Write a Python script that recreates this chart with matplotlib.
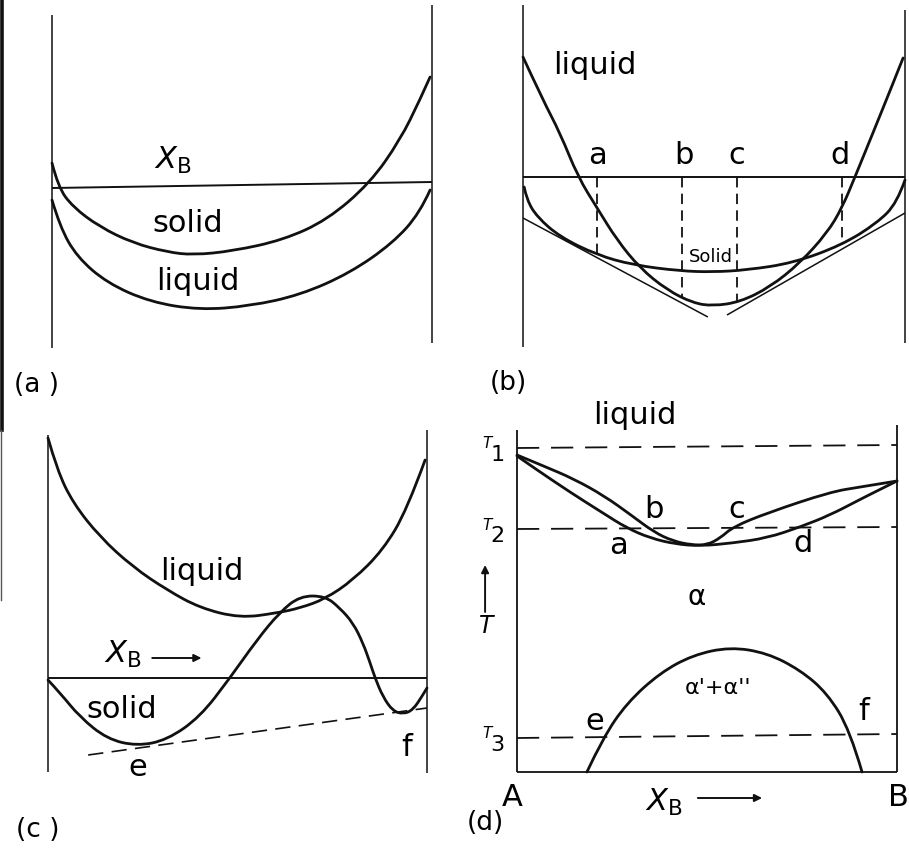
import matplotlib
matplotlib.use("Agg")
import matplotlib.pyplot as plt
from matplotlib.path import Path
from matplotlib.patches import PathPatch
from matplotlib.lines import Line2D

plt.rcParams['lines.scale_dashes'] = False
plt.rcParams['font.family'] = ['DejaVu Sans']
plt.rcParams['mathtext.fontset'] = 'dejavusans'

INK = '#111111'

# ---- (a) free energy, solid above liquid ----
a_solid_x = [0.0, 0.016, 0.055, 0.126, 0.213, 0.303, 0.371, 0.476, 0.608, 0.724, 0.837, 0.916, 0.968, 0.995]
a_solid_g = [185, 161, 141, 121, 105, 96, 93, 97, 108, 128, 165, 208, 248, 271]
a_liq_x = [0.0, 0.021, 0.066, 0.145, 0.258, 0.389, 0.521, 0.653, 0.784, 0.897, 0.968, 0.995]
a_liq_g = [148, 121, 91, 65, 46, 38, 42, 53, 75, 105, 135, 158]
a_ref_g = [160, 166]

# ---- (b) common tangents ----
b_liq_x = [0.0, 0.052, 0.097, 0.144, 0.194, 0.246, 0.306, 0.377, 0.445, 0.497, 0.568, 0.647, 0.725, 0.796, 0.835, 0.869, 0.916, 0.969, 0.995]
b_liq_g = [290, 247, 214, 170, 139, 107, 79, 57, 44, 41, 45, 60, 84, 114, 139, 170, 214, 264, 289]
b_sol_x = [0.003, 0.010, 0.037, 0.097, 0.194, 0.288, 0.411, 0.497, 0.586, 0.707, 0.835, 0.927, 0.979, 1.0]
b_sol_g = [160, 147, 130, 110, 92, 82, 76, 75, 77, 84, 102, 124, 144, 167]
b_ref_g = 170
b_tan1 = ([0.0, 0.484], [129, 30])
b_tan2 = ([0.534, 1.0], [32, 134])
b_drop_x = [0.194, 0.416, 0.560, 0.835]
b_drop_g = [92, 50, 45, 102]
b_marks = ['a', 'b', 'c', 'd']
b_mark_x = [0.196, 0.421, 0.560, 0.830]

# ---- (c) solid with miscibility gap ----
c_liq_x = [0.0, 0.024, 0.066, 0.137, 0.224, 0.314, 0.401, 0.507, 0.604, 0.665, 0.731, 0.805, 0.884, 0.947, 0.995]
c_liq_g = [335, 303, 270, 236, 206, 183, 165, 155, 160, 165, 174, 193, 223, 263, 313]
c_sol_x = [0.0, 0.032, 0.084, 0.156, 0.235, 0.314, 0.401, 0.480, 0.551, 0.612, 0.665, 0.731, 0.770, 0.805,
           0.831, 0.850, 0.863, 0.884, 0.910, 0.937, 0.963, 0.989, 1.0]
c_sol_g = [93, 80, 56, 34, 27, 33, 56, 95, 133, 161, 177, 177, 165, 150, 130, 110, 95, 76, 62, 59, 63, 78, 85]
c_ref_g = 95
c_tan = ([0.106, 1.0], [18, 65])

# ---- (d) phase diagram ----
d_liqs_x = [0.0, 0.07, 0.15, 0.23, 0.30, 0.36, 0.41, 0.46, 0.50, 0.535, 0.568, 0.658, 0.824, 0.903, 1.0]
d_liqs_t = [317, 306, 293, 276, 257, 240, 231, 227, 227, 234, 245, 259, 280, 285, 291]
d_sols_x = [0.0, 0.053, 0.139, 0.226, 0.289, 0.350, 0.416, 0.482, 0.568, 0.658, 0.745, 0.824, 0.900, 0.947, 1.0]
d_sols_t = [316, 302, 280, 259, 244, 234, 228, 226, 229, 234, 245, 257, 272, 281, 291]
d_gap_x = [0.184, 0.226, 0.289, 0.376, 0.463, 0.561, 0.658, 0.745, 0.816, 0.876, 0.908]
d_gap_t = [0, 34, 69, 99, 117, 125, 119, 102, 79, 42, 0]
d_iso_names = ['1', '2', '3']
d_iso_t = [(324, 327), (243, 245), (34, 38)]


def smooth(ax, xs, ys, lw=2.0, ls='-'):
    pts = list(zip(xs, ys))
    n = len(pts)
    verts = [pts[0]]
    codes = [Path.MOVETO]
    for i in range(1, n - 1):
        if i < n - 2:
            end = ((pts[i][0] + pts[i + 1][0]) / 2, (pts[i][1] + pts[i + 1][1]) / 2)
        else:
            end = pts[n - 1]
        verts += [pts[i], end]
        codes += [Path.CURVE3, Path.CURVE3]
    ax.add_patch(PathPatch(Path(verts, codes), fill=False, ec=INK, lw=lw,
                           linestyle=ls, capstyle='round', joinstyle='round', clip_on=False))


def panel(left, right, top, bottom):
    ax = fig.add_axes([left / 909, 1 - bottom / 848, (right - left) / 909, (bottom - top) / 848])
    ax.set_xlim(0, 1)
    ax.set_ylim(0, bottom - top)
    ax.axis('off')
    return ax


def line(ax, xs, ys, lw=1.3, **kw):
    ax.plot(xs, ys, color=INK, lw=lw, clip_on=False, solid_capstyle='butt', **kw)


def arrow(ax, start, end):
    ax.annotate('', xy=end, xytext=start, annotation_clip=False,
                arrowprops=dict(arrowstyle='-|>', color=INK, lw=1.4, mutation_scale=11,
                                shrinkA=0, shrinkB=0))


fig = plt.figure(figsize=(9.09, 8.48), dpi=100)
fig.patch.set_facecolor('white')

# scan edge on the far left
fig.add_artist(Line2D([1.5 / 909, 1.5 / 909], [1, 1 - 430 / 848], lw=2.6, color=INK))
fig.add_artist(Line2D([1.0 / 909, 1.0 / 909], [1 - 430 / 848, 1 - 600 / 848], lw=1.0, color='#555555'))

lab = 22
tag = 19

# (a)
ax = panel(52, 432, 0, 348)
line(ax, [0, 0], [0, 333], lw=1.1)
line(ax, [1, 1], [5, 343], lw=1.1)
line(ax, [0, 1], a_ref_g, lw=1.4)
smooth(ax, a_solid_x, a_solid_g)
smooth(ax, a_liq_x, a_liq_g)
ax.text(0.318, 188, r'$X_\mathrm{B}$', fontsize=22, ha='center', va='center')
ax.text(0.358, 125, 'solid', fontsize=lab, ha='center', va='center')
ax.text(0.384, 67, 'liquid', fontsize=lab, ha='center', va='center')
ax.text(-0.04, -37, '(a )', fontsize=tag, ha='center', va='center')

# (b)
ax = panel(523, 905, 0, 347)
line(ax, [0, 0], [0, 342], lw=1.1)
line(ax, [1, 1], [4, 337], lw=1.1)
line(ax, [0, 1], [b_ref_g, b_ref_g], lw=1.4)
smooth(ax, b_liq_x, b_liq_g)
smooth(ax, b_sol_x, b_sol_g)
line(ax, *b_tan1, lw=1.1)
line(ax, *b_tan2, lw=1.1)
for x, g, m, mx in zip(b_drop_x, b_drop_g, b_marks, b_mark_x):
    line(ax, [x, x], [b_ref_g, g], lw=1.3, dashes=(7.5, 4.5))
    ax.text(mx, 191, m, fontsize=lab, ha='center', va='center')
ax.text(0.188, 282, 'liquid', fontsize=lab, ha='center', va='center')
ax.text(0.492, 90, 'Solid', fontsize=13, ha='center', va='center')
ax.text(-0.039, -36, '(b)', fontsize=tag, ha='center', va='center')

# (c)
ax = panel(48, 427, 410, 773)
line(ax, [0, 0], [1, 338], lw=1.1)
line(ax, [1, 1], [0, 343], lw=1.1)
line(ax, [0, 1], [c_ref_g, c_ref_g], lw=1.4)
smooth(ax, c_liq_x, c_liq_g)
smooth(ax, c_sol_x, c_sol_g)
line(ax, *c_tan, lw=1.2, dashes=(11, 6))
ax.text(0.406, 202, 'liquid', fontsize=lab, ha='center', va='center')
ax.text(0.198, 119, r'$X_\mathrm{B}$', fontsize=22, ha='center', va='center')
arrow(ax, (0.275, 115), (0.405, 115))
ax.text(0.195, 64, 'solid', fontsize=lab, ha='center', va='center')
ax.text(0.237, 6, 'e', fontsize=lab, ha='center', va='center')
ax.text(0.947, 26, 'f', fontsize=lab, ha='center', va='center')
ax.text(-0.026, -57, '(c )', fontsize=tag, ha='center', va='center')

# (d)
ax = panel(517, 897, 405, 772)
line(ax, [0, 0], [0, 342], lw=1.3)
line(ax, [1, 1], [0, 347], lw=1.3)
line(ax, [0, 1], [0, 0], lw=1.3)
for name, (t0, t1) in zip(d_iso_names, d_iso_t):
    line(ax, [0, 1], [t0, t1], lw=1.3, dashes=(16, 8.5))
    ax.text(-0.078, t0 + 4, 'T', fontsize=11, style='italic', ha='center', va='center')
    ax.text(-0.052, t0 - 7, name, fontsize=16, ha='center', va='center')
smooth(ax, d_liqs_x, d_liqs_t)
smooth(ax, d_sols_x, d_sols_t)
smooth(ax, d_gap_x, d_gap_t)
ax.text(0.311, 356, 'liquid', fontsize=lab, ha='center', va='center')
ax.text(0.360, 262, 'b', fontsize=lab, ha='center', va='center')
ax.text(0.579, 262, 'c', fontsize=lab, ha='center', va='center')
ax.text(0.266, 226, 'a', fontsize=lab, ha='center', va='center')
ax.text(0.753, 228, 'd', fontsize=lab, ha='center', va='center')
ax.text(0.474, 175, 'α', fontsize=20, ha='center', va='center')
ax.text(0.530, 84, "α'+α''", fontsize=16, ha='center', va='center')
ax.text(0.205, 51, 'e', fontsize=lab, ha='center', va='center')
ax.text(0.911, 61, 'f', fontsize=lab, ha='center', va='center')
ax.text(-0.013, -25, 'A', fontsize=lab, ha='center', va='center')
ax.text(1.005, -25, 'B', fontsize=lab, ha='center', va='center')
ax.text(0.385, -30, r'$X_\mathrm{B}$', fontsize=22, ha='center', va='center')
arrow(ax, (0.476, -26), (0.645, -26))
arrow(ax, (-0.084, 160), (-0.084, 207))
ax.text(-0.082, 146, 'T', fontsize=17, style='italic', ha='center', va='center')
ax.text(-0.084, -51, '(d)', fontsize=tag, ha='center', va='center')

fig.savefig('out.png', dpi=100, facecolor='white')
